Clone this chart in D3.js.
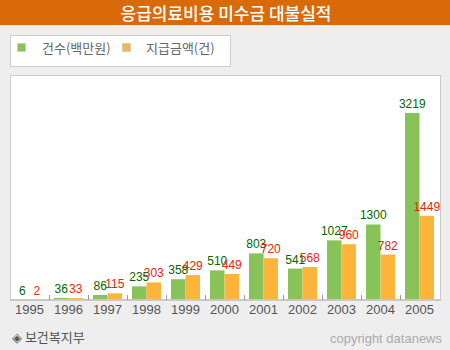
<!DOCTYPE html>
<html><head><meta charset="utf-8">
<script src="https://cdn.jsdelivr.net/npm/d3@7"></script>
<style>body{margin:0;background:#eeeeee}svg{display:block}</style>
</head><body>
<script>
const years = ["1995","1996","1997","1998","1999","2000","2001","2002","2003","2004","2005"];
const countValues = [6,36,86,235,358,510,803,541,1027,1300,3219];
const amountValues = [2,33,115,303,429,449,720,568,960,782,1449];
const seriesNames = ["건수(백만원)","지급금액(건)"];
const title = "응급의료비용 미수금 대불실적";

(function(){
const W=450,H=350;
const svg=d3.select("body").append("svg").attr("width",W).attr("height",H);
const font="'Liberation Sans','Noto Sans CJK KR',sans-serif";
svg.append("rect").attr("width",W).attr("height",H).attr("fill","#eeeeee");
// title bar
svg.append("rect").attr("x",0).attr("y",0).attr("width",W).attr("height",25).attr("fill","#d96a0a");
svg.append("text").attr("x",226).attr("y",20).attr("text-anchor","middle").attr("fill","#fff")
  .attr("font-family","'Noto Sans CJK KR',sans-serif").attr("font-size",17).attr("font-weight","500").text(title);
// legend
svg.append("rect").attr("x",10.5).attr("y",35.5).attr("width",220).attr("height",31).attr("fill","#fff").attr("stroke","#cccccc");
const colors=["#88c35a","#fcb53a"];
const lx=[17,122], tx=[42,146];
seriesNames.forEach((n,i)=>{
  svg.append("rect").attr("x",lx[i]+0.5).attr("y",43.5).attr("width",8).attr("height",8).attr("fill",colors[i]).attr("stroke","#cccccc");
  svg.append("text").attr("x",tx[i]).attr("y",53).attr("fill","#666").attr("font-family","'Noto Sans CJK KR',sans-serif").attr("font-size",13).text(n);
});
// plot box
const pl=10,pr=439,pt=75,pb=300;
svg.append("rect").attr("x",pl+0.5).attr("y",pt+0.5).attr("width",pr-pl+1).attr("height",pb-pt).attr("fill","#fff").attr("stroke","#cccccc");
const x=d3.scaleBand().domain(years).range([pl,pr]).paddingInner(0).paddingOuter(0);
const y=d3.scaleLinear().domain([0,3219]).range([pb,113]);
const x1=d3.scaleBand().domain([0,1]).range([5,x.bandwidth()-5]).padding(0);
const g=svg.append("g");
years.forEach((yr,i)=>{
  [countValues[i],amountValues[i]].forEach((v,j)=>{
    g.append("rect").attr("x",x(yr)+x1(j)).attr("y",y(v)).attr("width",x1.bandwidth()).attr("height",pb-y(v)).attr("fill",colors[j]);
  });
});
years.forEach((yr,i)=>{
  [countValues[i],amountValues[i]].forEach((v,j)=>{
    g.append("text").attr("x",x(yr)+x1(j)+x1.bandwidth()/2).attr("y",y(v)-5).attr("text-anchor","middle")
     .attr("fill",j==0?"#006600":"#ee2200").attr("font-family",font).attr("font-size",12).text(v);
  });
});
// axis
const ax=svg.append("g").attr("transform",`translate(0,${pb})`)
  .call(d3.axisBottom(x).tickSize(0).tickPadding(5));
ax.select(".domain").remove();
ax.selectAll("text").attr("fill","#555").attr("font-family",font).attr("font-size",13);
svg.append("line").attr("x1",pl).attr("x2",pr+2).attr("y1",pb).attr("y2",pb).attr("stroke","#c8c8c8").attr("stroke-width",2);
svg.append("line").attr("x1",pr+1.5).attr("x2",pr+1.5).attr("y1",pt).attr("y2",pb).attr("stroke","#c8c8c8").attr("stroke-width",1);
years.slice(1).forEach(yr=>{
  svg.append("line").attr("x1",x(yr)+0.5).attr("x2",x(yr)+0.5).attr("y1",pb-5).attr("y2",pb).attr("stroke","#999");
});
svg.append("text").attr("x",12).attr("y",342).attr("fill","#555").attr("font-family","'Noto Sans CJK KR',sans-serif").attr("font-size",13).text("◈ 보건복지부");
svg.append("text").attr("x",442).attr("y",343).attr("text-anchor","end").attr("fill","#aaa").attr("font-family",font).attr("font-size",13).text("copyright datanews");
})();
</script>
</body></html>
